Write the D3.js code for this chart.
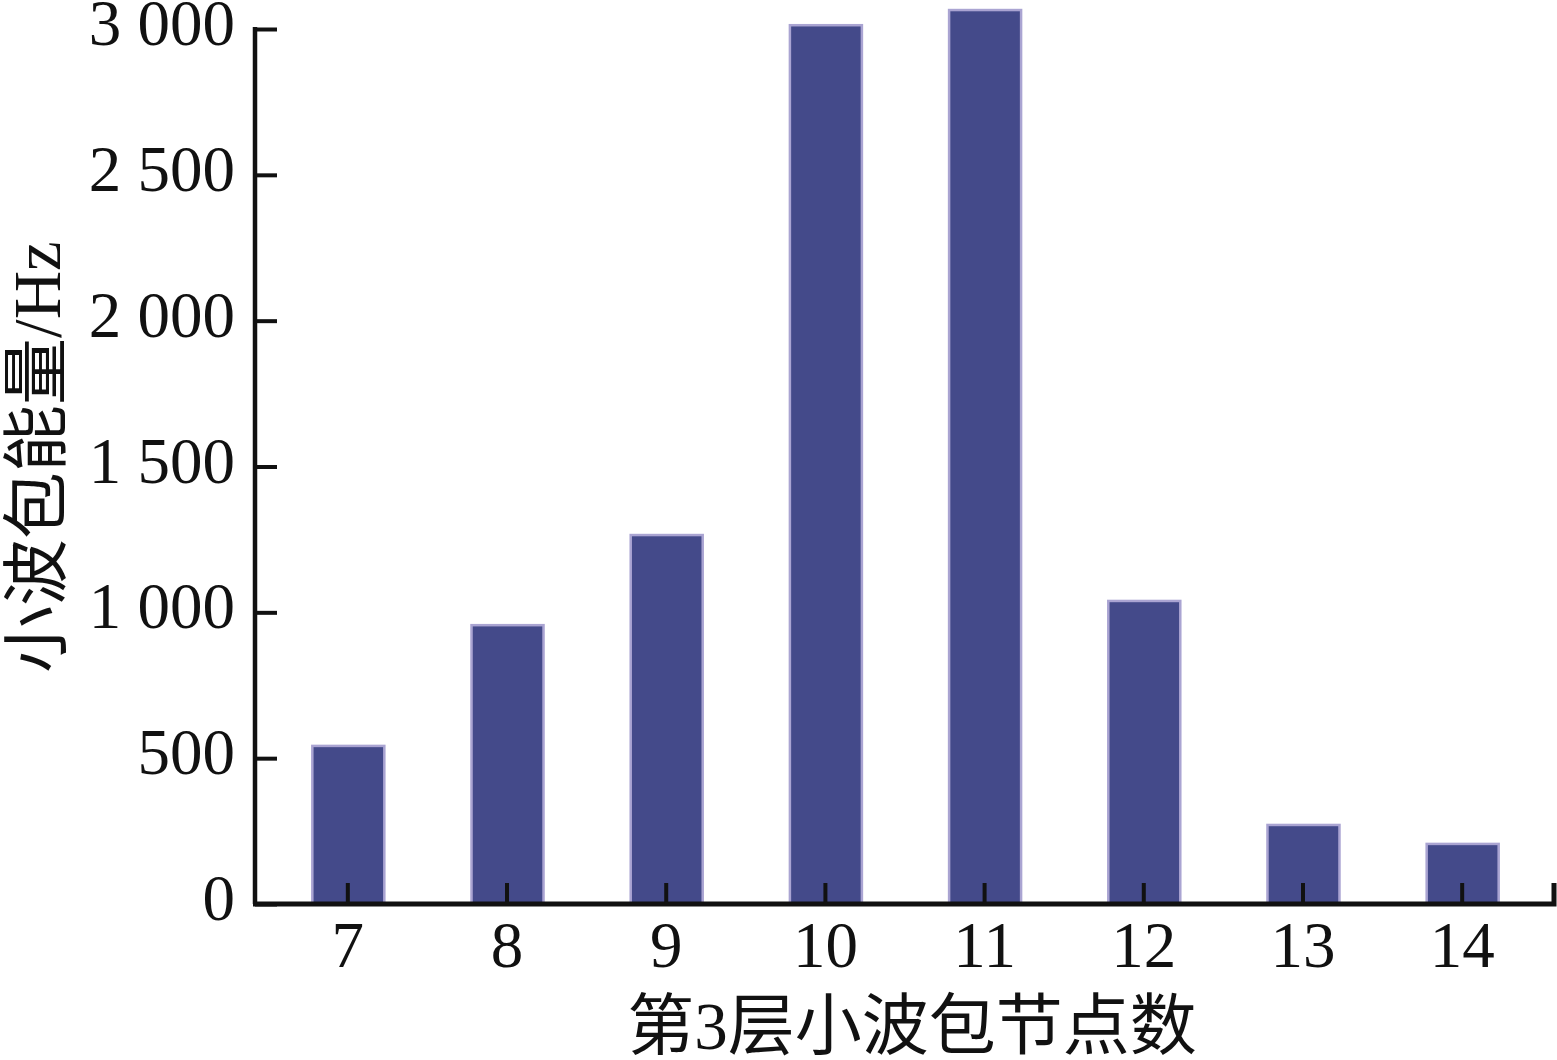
<!DOCTYPE html>
<html>
<head>
<meta charset="utf-8">
<script src="https://cdn.jsdelivr.net/npm/d3@7"></script>
<style>
  html, body { margin: 0; padding: 0; background: #fff; }
  svg { display: block; }
  text { font-family: "Liberation Serif", "DejaVu Serif", "Noto Sans CJK SC", serif; fill: #111; }
</style>
</head>
<body>
<svg id="chart" width="1557" height="1060"></svg>
<script>
const categories = [7, 8, 9, 10, 11, 12, 13, 14];
const energyValues = [542, 956, 1265, 3013, 3065, 1039, 271, 206];
const yTickValues = [0, 500, 1000, 1500, 2000, 2500, 3000];
const yTickLabels = ["0", "500", "1 000", "1 500", "2 000", "2 500", "3 000"];
const xTitle = "第3层小波包节点数";
const yTitle = "小波包能量/Hz";

const svg = d3.select("#chart");
const plotLeft = 255, plotRight = 1554, plotTop = 29, plotBottom = 904;

const x = d3.scalePoint().domain(categories).range([plotLeft, plotRight]).padding(0.58);
const y = d3.scaleLinear().domain([0, 3000]).range([plotBottom, plotTop]);
const barW = 72;

// bars
svg.append("g").selectAll("rect").data(categories).join("rect")
  .attr("x", (d) => x(d) - barW / 2 + 1)
  .attr("y", (d, i) => y(energyValues[i]))
  .attr("width", barW)
  .attr("height", (d, i) => plotBottom - y(energyValues[i]))
  .attr("fill", "#444a8a")
  .attr("stroke", "#aaa4d2")
  .attr("stroke-width", 2.5);

// y axis
const yAxis = d3.axisLeft(y).tickValues(yTickValues)
  .tickFormat((d) => yTickLabels[yTickValues.indexOf(d)])
  .tickSizeInner(-22).tickSizeOuter(0).tickPadding(20);
const gy = svg.append("g").attr("transform", `translate(${plotLeft},0)`).call(yAxis);
gy.select(".domain").attr("stroke", "#111").attr("stroke-width", 4.5)
  .attr("d", `M0,${plotTop - 2}V${plotBottom}`);
gy.selectAll(".tick line").attr("stroke", "#111").attr("stroke-width", 4);
gy.selectAll(".tick text").attr("font-size", 65).attr("dy", "0.24em")
  .style("font-family", "'Liberation Serif', serif").attr("fill", "#111");

// x axis
const xAxis = d3.axisBottom(x).tickSizeInner(-21).tickSizeOuter(0).tickPadding(23);
const gx = svg.append("g").attr("transform", `translate(0,${plotBottom})`).call(xAxis);
gx.select(".domain").attr("stroke", "#111").attr("stroke-width", 5)
  .attr("d", `M${plotLeft - 2},0H${plotRight}V-21`);
gx.selectAll(".tick line").attr("stroke", "#111").attr("stroke-width", 4);
gx.selectAll(".tick text").attr("font-size", 65).attr("dy", "0.62em")
  .style("font-family", "'Liberation Serif', serif").attr("fill", "#111");

// titles
svg.append("text").attr("x", 912).attr("y", 1049).attr("text-anchor", "middle")
  .attr("font-size", 67).text(xTitle);
svg.append("text").attr("transform", "translate(60,457) rotate(-90)")
  .attr("text-anchor", "middle").attr("font-size", 67).text(yTitle);
</script>
</body>
</html>
